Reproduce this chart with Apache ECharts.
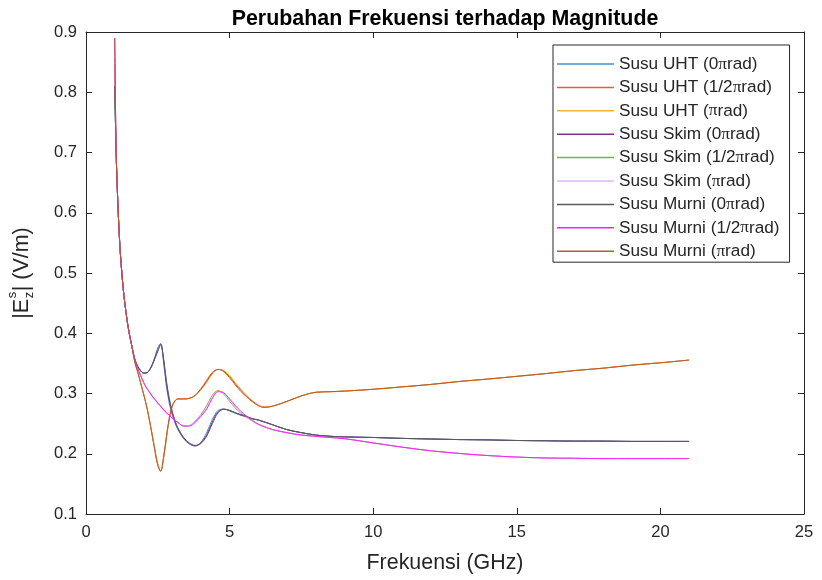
<!DOCTYPE html>
<html>
<head>
<meta charset="utf-8">
<script src="https://cdn.jsdelivr.net/npm/echarts@6/dist/echarts.min.js"></script>
<style>
html,body{margin:0;padding:0;background:#fff;}
#chart{width:822px;height:580px;}
</style>
</head>
<body>
<div id="chart"></div>
<script>
// Frequency (GHz)
var freq = [1.0,1.05,1.1,1.15,1.2,1.3,1.4,1.5,1.6,1.7,1.8,1.9,2.0,2.1,2.2,2.3,2.4,2.5,2.6,2.7,2.8,2.9,3.0,3.1,3.2,3.4,3.6,3.8,4.0,4.2,4.4,4.6,4.8,5.0,5.2,5.4,5.6,5.8,6.0,6.2,6.5,7.0,7.5,8.0,8.5,9.0,10,11,12,13,14,15,16,17,18,19,20,21];

var seriesNames = ['Susu UHT (0\u03c0rad)','Susu UHT (1/2\u03c0rad)','Susu UHT (\u03c0rad)','Susu Skim (0\u03c0rad)','Susu Skim (1/2\u03c0rad)','Susu Skim (\u03c0rad)','Susu Murni (0\u03c0rad)','Susu Murni (1/2\u03c0rad)','Susu Murni (\u03c0rad)'];

var uht0 = [0.81,0.70,0.627,0.572,0.53,0.472,0.432,0.401,0.378,0.357,0.345,0.338,0.334,0.334,0.339,0.348,0.361,0.376,0.383,0.352,0.312,0.284,0.265,0.251,0.240,0.225,0.216,0.213,0.219,0.235,0.257,0.272,0.274,0.271,0.267,0.264,0.261,0.258,0.256,0.253,0.248,0.240,0.235,0.231,0.229,0.228,0.227,0.2255,0.2245,0.2235,0.223,0.222,0.2215,0.221,0.221,0.2205,0.2205,0.2205];
var uhtHalf = [0.845,0.70,0.627,0.572,0.53,0.472,0.432,0.401,0.378,0.352,0.336,0.318,0.300,0.281,0.258,0.232,0.205,0.181,0.171,0.194,0.228,0.259,0.279,0.288,0.291,0.291,0.292,0.297,0.308,0.322,0.335,0.340,0.336,0.326,0.314,0.303,0.294,0.286,0.280,0.277,0.279,0.287,0.296,0.302,0.303,0.304,0.307,0.311,0.315,0.320,0.324,0.3285,0.333,0.338,0.342,0.347,0.351,0.3555];
var uhtPi = [0.845,0.70,0.627,0.572,0.53,0.472,0.432,0.401,0.378,0.352,0.336,0.318,0.300,0.281,0.259,0.234,0.208,0.184,0.172,0.190,0.224,0.256,0.277,0.287,0.291,0.291,0.292,0.296,0.306,0.318,0.332,0.340,0.338,0.330,0.318,0.307,0.297,0.288,0.281,0.278,0.279,0.287,0.296,0.302,0.303,0.304,0.307,0.311,0.315,0.320,0.324,0.3285,0.333,0.338,0.342,0.347,0.351,0.3555];
var skim0 = [0.81,0.70,0.627,0.572,0.53,0.472,0.432,0.401,0.378,0.357,0.345,0.338,0.334,0.334,0.338,0.347,0.359,0.372,0.382,0.356,0.317,0.288,0.268,0.253,0.242,0.226,0.217,0.213,0.218,0.231,0.253,0.270,0.274,0.272,0.268,0.264,0.261,0.258,0.256,0.253,0.248,0.240,0.235,0.231,0.229,0.228,0.227,0.2255,0.2245,0.2235,0.223,0.222,0.2215,0.221,0.221,0.2205,0.2205,0.2205];
var skimHalf = [0.81,0.70,0.627,0.572,0.53,0.472,0.432,0.401,0.378,0.355,0.342,0.330,0.319,0.310,0.303,0.296,0.290,0.284,0.279,0.273,0.268,0.264,0.259,0.255,0.252,0.246,0.247,0.254,0.265,0.280,0.297,0.305,0.299,0.287,0.276,0.267,0.260,0.254,0.249,0.245,0.240,0.235,0.231,0.229,0.227,0.225,0.218,0.211,0.205,0.2005,0.197,0.1945,0.193,0.1925,0.192,0.192,0.192,0.192];
var skimPi = [0.89,0.70,0.627,0.572,0.53,0.472,0.432,0.401,0.378,0.355,0.342,0.330,0.319,0.310,0.303,0.296,0.290,0.284,0.279,0.273,0.268,0.264,0.259,0.255,0.252,0.246,0.247,0.253,0.263,0.276,0.294,0.304,0.301,0.290,0.278,0.268,0.261,0.254,0.249,0.245,0.240,0.235,0.231,0.229,0.227,0.225,0.218,0.211,0.205,0.2005,0.197,0.1945,0.193,0.1925,0.192,0.192,0.192,0.192];
var murni0 = [0.81,0.70,0.627,0.572,0.53,0.472,0.432,0.401,0.378,0.357,0.345,0.338,0.334,0.334,0.338,0.346,0.358,0.370,0.381,0.359,0.321,0.292,0.271,0.255,0.243,0.227,0.218,0.214,0.217,0.229,0.250,0.268,0.274,0.272,0.268,0.265,0.262,0.258,0.256,0.253,0.248,0.240,0.235,0.231,0.229,0.228,0.227,0.2255,0.2245,0.2235,0.223,0.222,0.2215,0.221,0.221,0.2205,0.2205,0.2205];
var murniHalf = [0.89,0.70,0.627,0.572,0.53,0.472,0.432,0.401,0.378,0.355,0.342,0.330,0.319,0.310,0.303,0.296,0.290,0.284,0.279,0.273,0.268,0.264,0.259,0.255,0.252,0.246,0.246,0.252,0.262,0.274,0.292,0.303,0.301,0.291,0.280,0.270,0.262,0.255,0.249,0.245,0.240,0.235,0.231,0.229,0.227,0.225,0.218,0.211,0.205,0.2005,0.197,0.1945,0.193,0.1925,0.192,0.192,0.192,0.192];
var murniPi = [0.89,0.70,0.627,0.572,0.53,0.472,0.432,0.401,0.378,0.352,0.336,0.318,0.300,0.281,0.258,0.232,0.205,0.181,0.171,0.194,0.228,0.259,0.279,0.288,0.291,0.291,0.292,0.297,0.307,0.320,0.334,0.340,0.337,0.328,0.316,0.305,0.295,0.287,0.280,0.277,0.279,0.287,0.296,0.302,0.303,0.304,0.307,0.311,0.315,0.320,0.324,0.3285,0.333,0.338,0.342,0.347,0.351,0.3555];

var xTicks = [0,5,10,15,20,25];
var yTicks = [0.1,0.2,0.3,0.4,0.5,0.6,0.7,0.8,0.9];

var allValues = [uht0, uhtHalf, uhtPi, skim0, skimHalf, skimPi, murni0, murniHalf, murniPi];
var colors = ['#3f8fd0','#e0622f','#eeb43a','#7b3590','#7fb040','#ddb8f5','#5a5a5a','#ff1cff','#b8582c'];

var TXT = '#262626';
var FONT = '"Liberation Sans", Arial, sans-serif';

var cv = document.createElement('canvas').getContext('2d');
function mw(t, size, weight){ cv.font = (weight ? weight + ' ' : '') + size + 'px ' + FONT; return cv.measureText(t).width; }
function fit(t, target, weight){ return Math.round(100 * target / mw(t, 100, weight) * 10) / 10; }

var titleSize = fit('Perubahan Frekuensi terhadap Magnitude', 426, 'bold');
var nameSize = fit('Frekuensi (GHz)', 157);
var tickSize = 16.5;
var legSize = fit('Susu Murni (1/2\u03c0rad)', 164);

var chart = echarts.init(document.getElementById('chart'), null, {renderer:'canvas'});

var series = allValues.map(function(vals, i){
  return {
    name: seriesNames[i],
    type: 'line',
    xAxisIndex: 0,
    yAxisIndex: 0,
    data: freq.map(function(f, j){ return [f, vals[j]]; }),
    showSymbol: false,
    symbol: 'none',
    smooth: 0.35,
    lineStyle: {width: 1, color: colors[i]},
    itemStyle: {color: colors[i]},
    emphasis: {disabled: true},
    animation: false
  };
});

// y-axis label pieces, sized to the reference width
var big = fit('|E| (V/m)', 84), small = Math.round(big * 0.62);
var w1 = mw('|E', big), ws = mw('s', small), w3 = mw('| (V/m)', big);
var total = w1 + ws + 1 + w3;
var labX = 22, labCY = 273;

var xCommon = {
  type: 'value', min: xTicks[0], max: xTicks[xTicks.length-1], interval: 5,
  splitLine: {show:false},
  axisLine: {show:true, onZero:false, lineStyle:{color:TXT, width:1}},
  axisTick: {show:true, inside:true, length:6, lineStyle:{color:TXT}}
};
var yCommon = {
  type: 'value', min: yTicks[0], max: yTicks[yTicks.length-1], interval: 0.1,
  splitLine: {show:false},
  axisLine: {show:true, onZero:false, lineStyle:{color:TXT, width:1}},
  axisTick: {show:true, inside:true, length:6, lineStyle:{color:TXT}}
};

var option = {
  backgroundColor: '#ffffff',
  animation: false,
  title: {
    text: 'Perubahan Frekuensi terhadap Magnitude',
    left: 440, top: 4, textAlign: 'center',
    textStyle: {fontFamily: FONT, fontSize: titleSize, fontWeight: 'bold', color: '#000'}
  },
  grid: {left: 86, right: 18, top: 32, bottom: 66, containLabel: false},
  xAxis: [
    Object.assign({}, xCommon, {
      position: 'bottom',
      name: 'Frekuensi (GHz)', nameLocation: 'middle', nameGap: 39,
      nameTextStyle: {fontFamily: FONT, fontSize: nameSize, color: TXT},
      axisLabel: {show:true, margin: 10, fontFamily: FONT, fontSize: tickSize, color: TXT}
    }),
    Object.assign({}, xCommon, {position: 'top', axisLabel: {show:false}})
  ],
  yAxis: [
    Object.assign({}, yCommon, {
      position: 'left',
      axisLabel: {show:true, margin: 9, fontFamily: FONT, fontSize: tickSize, color: TXT,
        formatter: function(v){ return v.toFixed(1); }}
    }),
    Object.assign({}, yCommon, {position: 'right', axisLabel: {show:false}})
  ],
  legend: {
    orient: 'vertical',
    left: 553, top: 45,
    data: seriesNames,
    backgroundColor: '#ffffff',
    borderColor: TXT, borderWidth: 1, borderRadius: 0,
    padding: [9, 10, 1, 4],
    itemGap: 3.4,
    itemWidth: 57, itemHeight: 1.5,
    icon: 'rect',
    selectedMode: false,
    formatter: function(name){ return name.replace('\u03c0', '{p|\u03c0}'); },
    textStyle: {fontFamily: FONT, fontSize: legSize, lineHeight: 20, color: TXT,
      rich: {p: {fontFamily: '"Liberation Serif", serif', fontSize: legSize, color: TXT, lineHeight: 20}}}
  },
  graphic: [{
    type: 'group',
    x: labX, y: labCY + total/2,
    rotation: Math.PI/2,
    children: [
      {type:'text', x:0, y:0, style:{text:'|E', font: big+'px '+FONT, fill: TXT, verticalAlign:'middle', align:'left'}},
      {type:'text', x:w1+0.5, y:-Math.round(big*0.45), style:{text:'s', font: small+'px '+FONT, fill: TXT, verticalAlign:'middle', align:'left'}},
      {type:'text', x:w1+0.5, y:Math.round(big*0.33), style:{text:'z', font: small+'px '+FONT, fill: TXT, verticalAlign:'middle', align:'left'}},
      {type:'text', x:w1+ws+1, y:0, style:{text:'| (V/m)', font: big+'px '+FONT, fill: TXT, verticalAlign:'middle', align:'left'}}
    ]
  }],
  series: series
};
chart.setOption(option);
</script>
</body>
</html>
